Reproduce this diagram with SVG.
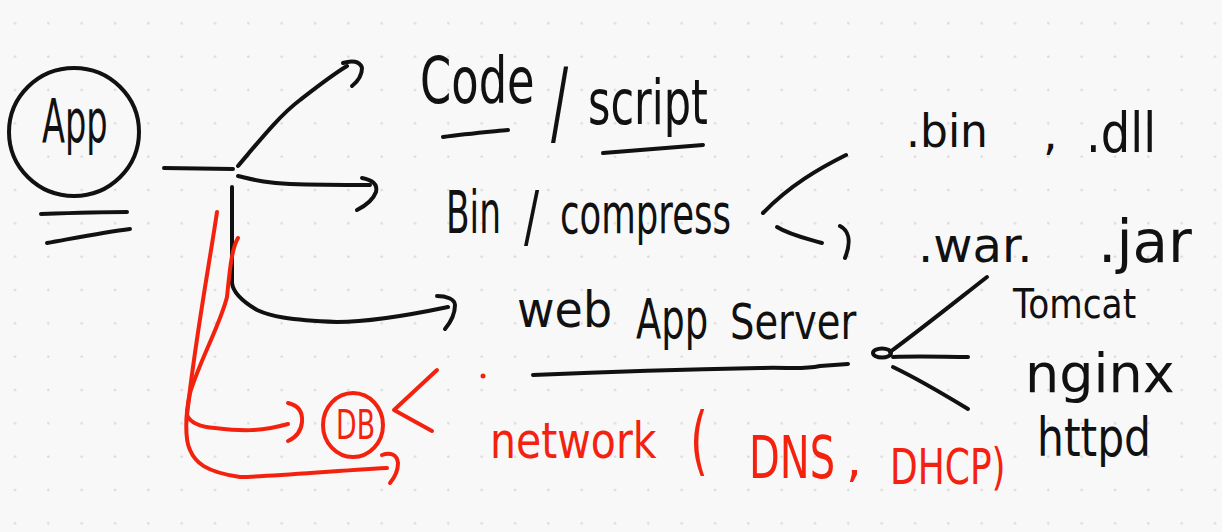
<svg xmlns="http://www.w3.org/2000/svg" width="1222" height="532" viewBox="0 0 1222 532">
<defs>
<pattern id="grid" patternUnits="userSpaceOnUse" width="33.333" height="33.333">
<circle cx="15" cy="23.33" r="1.3" fill="#d9d9d9"/>
</pattern>
<style>
.k{fill:none;stroke:#111;stroke-width:4;stroke-linecap:round;stroke-linejoin:round}
.r{fill:none;stroke:#f3220f;stroke-width:4;stroke-linecap:round;stroke-linejoin:round}
.t{font-family:"DejaVu Sans","Liberation Sans",sans-serif;fill:#111}
.tr{font-family:"DejaVu Sans","Liberation Sans",sans-serif;fill:#f3220f}
</style>
</defs>
<rect width="1222" height="532" fill="#f8f8f8"/>
<rect width="1222" height="532" fill="url(#grid)"/>

<g id="app">
<ellipse class="k" cx="74" cy="132" rx="65" ry="64"/>
<text class="t" font-size="60" transform="translate(42,142) scale(0.56,1)">App</text>
<path class="k" d="M41,214 C70,213 100,212 127,212"/>
<path class="k" d="M47,243 C75,238 105,232 130,229"/>
</g>

<g id="code-script">
<text class="t" font-size="64" transform="translate(420,103) scale(0.70,1)">Code</text>
<text class="t" font-size="60" transform="translate(551,134) scale(0.85,1.55)">/</text>
<text class="t" font-size="62" transform="translate(588,124) scale(0.694,1)">script</text>
<path class="k" d="M443,137 C465,134 488,132 508,130"/>
<path class="k" d="M603,153 C640,150 675,147 703,145"/>
</g>

<g id="bin-compress">
<text class="t" font-size="58" transform="translate(446,233) scale(0.593,1)">Bin</text>
<text class="t" font-size="50" transform="translate(524,240) scale(0.9,1.35)">/</text>
<text class="t" font-size="56" transform="translate(560,233) scale(0.634,1)">compress</text>
</g>

<g id="bin-dll">
<text class="t" font-size="46" transform="translate(906,147) scale(0.956,1)">.bin</text>
<text class="t" font-size="46" x="1043" y="150">,</text>
<text class="t" font-size="56" transform="translate(1086,152) scale(0.83,1)">.dll</text>
</g>

<g id="war-jar">
<text class="t" font-size="48" x="918" y="262">.war.</text>
<text class="t" font-size="58" x="1098" y="262">.jar</text>
</g>

<g id="web-app-server">
<text class="t" font-size="50" transform="translate(517,327) scale(0.92,1)">web</text>
<text class="t" font-size="56" transform="translate(636,338) scale(0.66,1)">App</text>
<text class="t" font-size="50" transform="translate(730,339) scale(0.77,1)">Server</text>
</g>

<g id="tomcat">
<text class="t" font-size="40" transform="translate(1013,318) scale(0.86,1)">Tomcat</text>
</g>
<g id="nginx">
<text class="t" font-size="54" x="1025" y="392">nginx</text>
</g>
<g id="httpd">
<text class="t" font-size="54" transform="translate(1037,456) scale(0.786,1)">httpd</text>
</g>

<g id="db">
<ellipse class="r" cx="353" cy="425" rx="30" ry="32"/>
<text class="tr" font-size="40" transform="translate(336,439) scale(0.67,1)">DB</text>
</g>

<g id="network">
<text class="tr" font-size="50" transform="translate(490,458) scale(0.82,1)">network</text>
<text class="tr" font-size="54" transform="translate(690,466) scale(0.85,1.4)">(</text>
<text class="tr" font-size="58" transform="translate(749,478) scale(0.69,1)">DNS</text>
<text class="tr" font-size="50" x="846" y="476">,</text>
<text class="tr" font-size="50" transform="translate(890,484) scale(0.72,1)">DHCP)</text>
</g>

<g id="connectors">
<path class="k" d="M164,168 L233,169"/>
<path class="k" d="M238,166 C260,140 280,115 300,100 C318,86 332,75 347,66"/>
<path class="k" d="M343,63 C352,60 360,61 362,68 C362,76 357,82 352,86"/>
<path class="k" d="M238,176 C255,180 265,183 290,184 C320,185 345,185 370,185"/>
<path class="k" d="M362,178 C372,180 378,184 376,192 C373,200 365,206 357,210"/>
<path class="k" d="M232,187 L232,283 C233,292 240,300 257,310 C270,316 287,320 337,322 C370,322 405,316 448,307"/>
<path class="k" d="M437,296 C446,296 455,299 455,305 C455,314 450,323 445,329"/>
<path class="k" d="M533,375 C600,372 700,369 760,368 C790,367 800,370 820,366 L848,364"/>
<ellipse class="k" cx="882" cy="353" rx="9" ry="4.5"/>
<path class="k" d="M890,352 C920,330 955,302 987,277"/>
<path class="k" d="M893,357 C920,356 945,357 968,357"/>
<path class="k" d="M893,367 C920,380 945,395 968,409"/>
<path class="k" d="M846,155 C820,168 790,185 763,213"/>
<path class="k" d="M777,227 C790,235 805,238 822,243"/>
<path class="k" d="M840,226 C848,230 852,240 845,258"/>
<path class="r" d="M217,212 C210,260 195,340 187,415 C190,422 200,427 215,428 C240,431 260,432 288,424"/>
<path class="r" d="M288,403 C297,405 303,410 302,422 C301,432 295,438 288,441"/>
<path class="r" d="M238,238 C232,248 230,267 227,297 C220,325 200,360 190,393 C185,415 185,440 190,450 C195,462 205,472 240,477 C280,476 330,471 387,468"/>
<path class="r" d="M382,455 C390,452 397,454 398,463 C398,470 395,477 390,483"/>
<path class="r" d="M437,370 L394,410 L432,431"/>
<circle cx="483" cy="376" r="2.5" fill="#f3220f"/>
</g>
</svg>
